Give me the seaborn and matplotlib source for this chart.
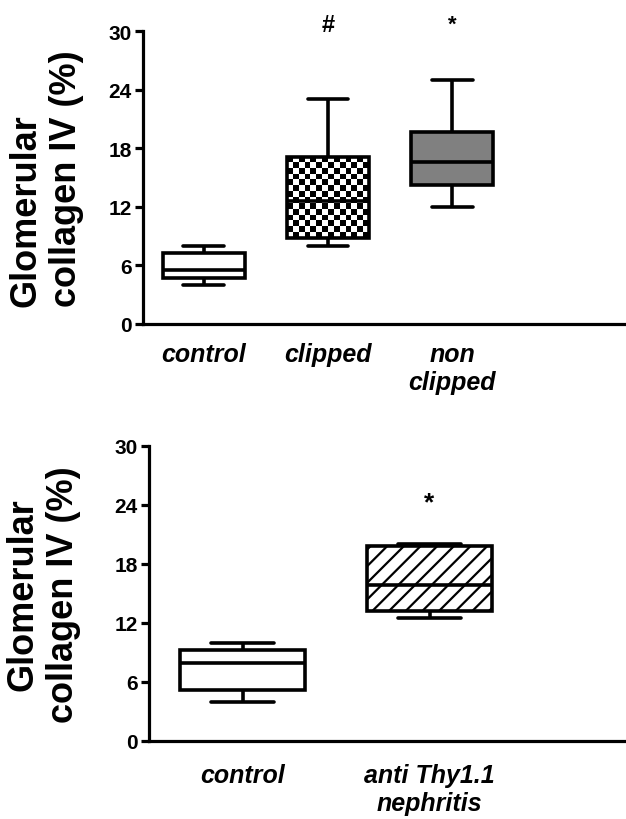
import numpy as np
import pandas as pd
import matplotlib
matplotlib.use("Agg")
import matplotlib.pyplot as plt
import seaborn as sns

# ---- data (five-number summaries: min, q1, median, q3, max)
top_categories = ["control", "clipped", "non\nclipped"]
top_control = [4.0, 4.7, 5.5, 7.3, 8.0]
top_clipped = [8.0, 8.8, 12.6, 17.1, 23.0]
top_nonclipped = [12.0, 14.2, 16.6, 19.7, 25.0]

bot_categories = ["control", "anti Thy1.1\nnephritis"]
bot_control = [4.0, 5.2, 7.9, 9.3, 10.0]
bot_thy = [12.5, 13.2, 15.9, 19.8, 20.0]

yticks = [0, 6, 12, 18, 24, 30]
top_marks = ["", "#", "*"]
bot_marks = ["", "*"]

sns.set_style("ticks")
plt.rcParams["font.family"] = ["Liberation Sans", "DejaVu Sans"]
plt.rcParams["font.weight"] = "bold"
plt.rcParams["hatch.linewidth"] = 1.6
for k in ["text.color", "axes.labelcolor", "xtick.color", "ytick.color", "axes.edgecolor"]:
    plt.rcParams[k] = "black"

df_top = pd.DataFrame({
    "group": np.repeat(top_categories, 5),
    "value": top_control + top_clipped + top_nonclipped,
})
df_bot = pd.DataFrame({
    "group": np.repeat(bot_categories, 5),
    "value": bot_control + bot_thy,
})

fig = plt.figure(figsize=(6.26, 8.2), dpi=100)
ax1 = fig.add_axes([143 / 626, 1 - 325 / 820, 1 - 143 / 626, (325 - 32) / 820])
ax2 = fig.add_axes([149 / 626, 1 - 742 / 820, 1 - 149 / 626, (742 - 447) / 820])

lw = 2.6
sns.boxplot(data=df_top, x="group", y="value", hue="group", order=top_categories,
            palette={top_categories[0]: "white", top_categories[1]: "white",
                     top_categories[2]: "#808080"},
            saturation=1, whis=(0, 100), width=0.66, linecolor="black",
            linewidth=lw, legend=False, ax=ax1)
sns.boxplot(data=df_bot, x="group", y="value", hue="group", order=bot_categories,
            palette={bot_categories[0]: "white", bot_categories[1]: "white"},
            saturation=1, whis=(0, 100), width=0.67, linecolor="black",
            linewidth=lw, legend=False, ax=ax2)

for ax, xl in [(ax1, (-0.49, 3.4)), (ax2, (-0.50, 2.05))]:
    ax.set_ylim(0, 30)
    ax.set_xlim(*xl)
    ax.set_yticks(yticks)
    ax.set_xlabel("")
    for s in ["top", "right"]:
        ax.spines[s].set_visible(False)
    for s in ["left", "bottom"]:
        ax.spines[s].set_linewidth(2.3)
        ax.spines[s].set_color("black")
        ax.spines[s].set_clip_on(False)
    ax.tick_params(axis="y", length=6, width=2.3, pad=2, labelsize=15, colors="black")
    ax.tick_params(axis="x", length=0, labelsize=18, colors="black")
    for lab in ax.get_xticklabels():
        lab.set_fontstyle("italic")
        lab.set_fontweight("bold")
        lab.set_linespacing(1.2)
    for lab in ax.get_yticklabels():
        lab.set_fontweight("bold")

ax1.tick_params(axis="x", pad=13)
ax2.tick_params(axis="x", pad=16)


def find_box(ax, idx):
    for p in ax.patches:
        ext = p.get_path().get_extents()
        if abs((ext.x0 + ext.x1) / 2 - idx) < 0.2:
            return p
    return None

# checkerboard texture for the "clipped" box
fig.canvas.draw()
pbox = find_box(ax1, 1)
if pbox is not None:
    ext = pbox.get_path().get_extents()
    d0 = ax1.transData.transform((ext.x0, ext.y0))
    d1 = ax1.transData.transform((ext.x1, ext.y1))
    nx = max(2, int(round(abs(d1[0] - d0[0]) / 6)))
    ny = max(2, int(round(abs(d1[1] - d0[1]) / 6)))
    board = np.add.outer(np.arange(ny), np.arange(nx)) % 2
    pbox.set_facecolor("none")
    im = ax1.imshow(board, extent=(ext.x0, ext.x1, ext.y0, ext.y1), cmap="gray",
                    vmin=0, vmax=1, interpolation="nearest", aspect="auto", zorder=1.9)
    im.set_clip_path(pbox)
    ax1.set_xlim(-0.49, 3.4)
    ax1.set_ylim(0, 30)

# diagonal hatch for the nephritis box
pthy = find_box(ax2, 1)
if pthy is not None:
    pthy.set_hatch("//")

# significance marks
for i, m in enumerate(top_marks):
    if m:
        ax1.text(i, 30.7, m, ha="center", va="center", fontsize=17 if m == "#" else 16,
                 fontweight="bold", clip_on=False)
for i, m in enumerate(bot_marks):
    if m:
        ax2.text(i, 24.3, m, ha="center", va="center", fontsize=19,
                 fontweight="bold", clip_on=False)

ax1.set_ylabel("Glomerular\ncollagen IV (%)", fontsize=26, fontweight="bold",
               linespacing=1.2, multialignment="left")
ax1.yaxis.set_label_coords(-0.122, 0.5)
ax2.set_ylabel("Glomerular\ncollagen IV (%)", fontsize=26, fontweight="bold",
               linespacing=1.2, multialignment="center")
ax2.yaxis.set_label_coords(-0.143, 0.5)

fig.savefig("out.png", dpi=100)
